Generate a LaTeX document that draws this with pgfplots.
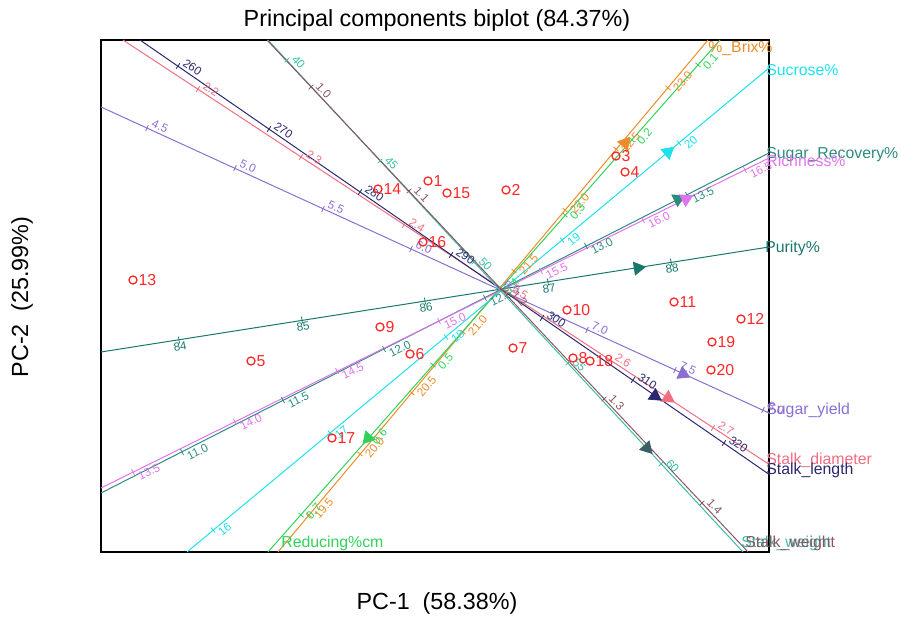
\documentclass[border=0pt]{standalone}
\usepackage{pgfplots}
\pgfplotsset{compat=1.18}
\usepackage{fontspec}
\setmainfont{Liberation Sans}

\definecolor{cBrix}{RGB}{236,140,40}
\definecolor{cRed}{RGB}{50,210,90}
\definecolor{cSuc}{RGB}{30,225,240}
\definecolor{cRec}{RGB}{45,140,125}
\definecolor{cRich}{RGB}{225,115,240}
\definecolor{cPur}{RGB}{25,120,110}
\definecolor{cYld}{RGB}{140,110,210}
\definecolor{cDia}{RGB}{240,110,130}
\definecolor{cLen}{RGB}{40,40,110}
\definecolor{cWtT}{RGB}{60,190,165}
\definecolor{cWtM}{RGB}{140,85,100}
\definecolor{cPt}{RGB}{255,40,40}
\definecolor{cArrW}{RGB}{60,95,100}

\pgfplotsset{
  tk/.style n args={3}{only marks, mark=|, mark size=2pt, color=#2,
    mark options={rotate=#1, solid, line width=0.5pt},
    point meta=explicit symbolic, nodes near coords,
    every node near coord/.append style={rotate=#1, anchor=#3,
      font=\fontsize{7}{8}\selectfont, inner sep=1.5pt}},
  ar/.style n args={2}{only marks, mark=triangle*, mark size=4.5pt, color=#2,
    mark options={rotate=#1}},
  vl/.style={line width=0.6pt, no marks, #1},
}

\begin{document}
\begin{tikzpicture}
\begin{axis}[
  x=0.6pt, y=0.6pt, y dir=reverse,
  xmin=101, xmax=769, ymin=40, ymax=552,
  xtick=\empty, ytick=\empty,
  axis line style={line width=1.4pt},
  clip=false,
]
% bounding box in pixel units
\path (axis cs:0,0) rectangle (axis cs:901,613);

% ---- Brix (orange)
\addplot[vl=cBrix] coordinates {(278,552) (708,40)};
\addplot[tk={50}{cBrix}{north west}] coordinates {(309,515)[19.5] (360,454)[20.0] (412,393)[20.5] (463,332)[21.0] (514,271)[21.5] (565,210)[22.0] (616,149)[22.5] (668,88)[23.0]};
\addplot[ar={-40}{cBrix}] coordinates {(625,143)};

% ---- Reducing (green)
\addplot[vl=cRed] coordinates {(268,552) (720,40)};
\addplot[tk={48.6}{cRed}{north west}] coordinates {(698,65)[0.1] (632,140)[0.2] (565,215)[0.3] (499,290)[0.4] (433,365)[0.5] (367,440)[0.6] (301,515)[0.7]};
\addplot[ar={138.6}{cRed}] coordinates {(368,438)};

% ---- Sucrose (cyan)
\addplot[vl=cSuc] coordinates {(187,552) (769,68)};
\addplot[tk={39.7}{cSuc}{north west}] coordinates {(213,530)[16] (330,433)[17] (446,337)[18] (562,240)[19] (679,143)[20]};
\addplot[ar={-50.3}{cSuc}] coordinates {(668,152)};

% ---- Sugar recovery (teal)
\addplot[vl=cRec] coordinates {(101,493) (769,153)};
\addplot[tk={27}{cRec}{north west}] coordinates {(182,452)[11.0] (283,400)[11.5] (384,349)[12.0] (485,298)[12.5] (586,246)[13.0] (687,195)[13.5]};
\addplot[ar={-63}{cRec}] coordinates {(678,199)};

% ---- Richness (pink)
\addplot[vl=cRich] coordinates {(101,488) (769,158)};
\addplot[tk={26.3}{cRich}{north west}] coordinates {(133,472)[13.5] (235,422)[14.0] (337,371)[14.5] (439,321)[15.0] (541,271)[15.5] (643,220)[16.0] (745,170)[16.5]};
\addplot[ar={-63.7}{cRich}] coordinates {(686,199)};

% ---- Purity
\addplot[vl=cPur] coordinates {(101,352) (769,247)};
\addplot[tk={8.9}{cPur}{north}] coordinates {(179,340)[84] (302,320)[85] (425,301)[86] (548,282)[87] (671,262)[88]};
\addplot[ar={-81.1}{cPur}] coordinates {(638,268)};

% ---- Sugar yield (purple)
\addplot[vl=cYld] coordinates {(101,107) (769,413)};
\addplot[tk={-24.6}{cYld}{south west}] coordinates {(147,128)[4.5] (235,168)[5.0] (323,209)[5.5] (411,249)[6.0] (499,289)[6.5] (587,330)[7.0] (675,370)[7.5] (763,410)[8.0]};
\addplot[ar={-114.6}{cYld}] coordinates {(683,374)};

% ---- Stalk diameter (pink-red)
\addplot[vl=cDia] coordinates {(123,40) (770,465)};
\addplot[tk={-33.3}{cDia}{south west}] coordinates {(198,89)[2.2] (301,157)[2.3] (404,225)[2.4] (507,292)[2.5] (610,360)[2.6] (713,428)[2.7]};
\addplot[ar={-123.3}{cDia}] coordinates {(668,398)};

% ---- Stalk length (navy)
\addplot[vl=cLen] coordinates {(140,40) (770,475)};
\addplot[tk={-34.6}{cLen}{south west}] coordinates {(178,66)[260] (269,129)[270] (360,192)[280] (451,255)[290] (542,318)[300] (633,380)[310] (724,443)[320]};
\addplot[ar={-124.6}{cLen}] coordinates {(655,396)};

% ---- Stalk weight (teal + maroon)
\addplot[vl=cWtT] coordinates {(268,40) (743,552)};
\addplot[vl=cWtM] coordinates {(267,40) (748,552)};
\addplot[tk={-47.1}{cWtT}{south west}] coordinates {(287,60)[40] (380,161)[45] (474,262)[50] (568,363)[55] (661,464)[60]};
\addplot[tk={-46.8}{cWtM}{south west}] coordinates {(311,87)[1.0] (409,191)[1.1] (507,295)[1.2] (604,399)[1.3] (702,503)[1.4]};
\addplot[ar={-137}{cArrW}] coordinates {(647,448)};

% ---- observations
\addplot[only marks, mark=o, mark size=2.4pt, color=cPt,
  mark options={line width=0.8pt},
  point meta=explicit symbolic, nodes near coords,
  every node near coord/.append style={anchor=west, xshift=2pt,
    font=\fontsize{9.5}{10}\selectfont, inner sep=1pt, text=cPt}]
coordinates {
(428,181)[1] (506,190)[2] (616,156)[3] (625,172)[4] (251,361)[5]
(410,354)[6] (513,348)[7] (573,358)[8] (380,327)[9] (567,310)[10]
(674,302)[11] (741,319)[12] (133,280)[13] (378,189)[14] (447,193)[15]
(423,242)[16] (332,438)[17] (590,361)[18] (712,342)[19] (711,370)[20]
};

% ---- variable names
\begin{scope}[font=\fontsize{9.5}{11}\selectfont]
\node[anchor=west, text=cBrix, inner sep=0pt] at (axis cs:708,48) {\%\_Brix\%};
\node[anchor=west, text=cSuc, inner sep=0pt] at (axis cs:766,70) {Sucrose\%};
\node[anchor=west, text=cRec, inner sep=0pt] at (axis cs:766,155) {Sugar\_Recovery\%};
\node[anchor=west, text=cRich, inner sep=0pt] at (axis cs:766,161) {Richness\%};
\node[anchor=west, text=cPur, inner sep=0pt] at (axis cs:765,248) {Purity\%};
\node[anchor=west, text=cYld, inner sep=0pt] at (axis cs:766,410) {Sugar\_yield};
\node[anchor=west, text=cDia, inner sep=0pt] at (axis cs:766,460) {Stalk\_diameter};
\node[anchor=west, text=cLen, inner sep=0pt] at (axis cs:766,470) {Stalk\_length};
\node[anchor=west, text=cWtT, inner sep=0pt] at (axis cs:741,543) {Stalk\_weight};
\node[anchor=west, text=cWtM, inner sep=0pt] at (axis cs:745,543) {Stalk\_weight};
\node[anchor=west, text=cRed, inner sep=0pt] at (axis cs:281,543) {Reducing\%cm};
\end{scope}

% ---- titles
\node[font=\fontsize{14}{16}\selectfont] at (axis cs:437,20) {Principal components biplot (84.37\%)};
\node[font=\fontsize{14}{16}\selectfont] at (axis cs:437,603) {PC-1\ \ (58.38\%)};
\node[font=\fontsize{14}{16}\selectfont, rotate=90] at (axis cs:22,297) {PC-2\ \ (25.99\%)};
\end{axis}
\end{tikzpicture}
\end{document}
